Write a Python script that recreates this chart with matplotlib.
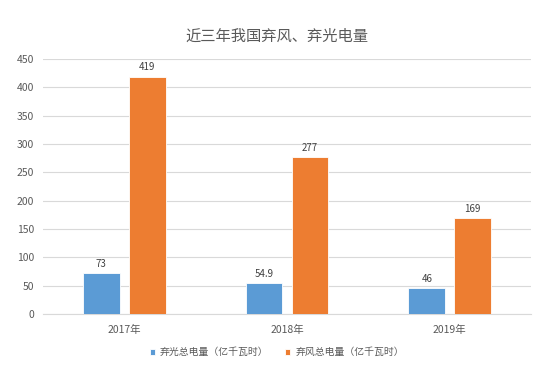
import numpy as np
import matplotlib
matplotlib.use("Agg")
import matplotlib.pyplot as plt

plt.rcParams["font.family"] = ["Noto Sans CJK SC", "DejaVu Sans"]

# 数据
years = ["2017年", "2018年", "2019年"]
solar = [73, 54.9, 46]
wind = [419, 277, 169]
solar_label = "弃光总电量（亿千瓦时）"
wind_label = "弃风总电量（亿千瓦时）"
yticks = [0, 50, 100, 150, 200, 250, 300, 350, 400, 450]

text_color = "#595959"
grid_color = "#D9D9D9"

fig = plt.figure(figsize=(5.54, 3.83), dpi=100)
ax = fig.add_axes([0.0776, 0.180, 0.881, 0.666])

x = np.arange(len(years))
w = 0.225
off = 0.141
b1 = ax.bar(x - off, solar, w, color="#5B9BD5", edgecolor="white", linewidth=0.6,
            label=solar_label, zorder=3)
b2 = ax.bar(x + off, wind, w, color="#ED7D31", edgecolor="white", linewidth=0.6,
            label=wind_label, zorder=3)

for bars, vals in ((b1, solar), (b2, wind)):
    for r, v in zip(bars, vals):
        ax.annotate(f"{v:g}", (r.get_x() + r.get_width() / 2, v),
                    xytext=(0, 3), textcoords="offset points",
                    ha="center", va="bottom", fontsize=7, color="#404040")

ax.set_xlim(-0.5, len(years) - 0.5)
ax.set_ylim(0, 450)
ax.set_yticks(yticks)
ax.set_xticks(x)
ax.set_xticklabels(years)
ax.tick_params(axis="both", length=0, labelsize=7.5, colors=text_color)
ax.tick_params(axis="x", pad=8)
ax.tick_params(axis="y", pad=6.5)
ax.grid(axis="y", color=grid_color, linewidth=0.8, zorder=0)
for s in ("top", "right", "left"):
    ax.spines[s].set_visible(False)
ax.spines["bottom"].set_color(grid_color)

fig.text(0.5, 0.905, "近三年我国弃风、弃光电量", ha="center", va="center",
         fontsize=11, color=text_color)

fig.legend(handles=[b1, b2], loc="center", bbox_to_anchor=(0.5, 0.08),
           ncol=2, frameon=False, fontsize=7.1, handlelength=0.5, handleheight=0.5,
           columnspacing=1.7, handletextpad=0.5, labelcolor=text_color)

fig.savefig("out.png", dpi=100)
